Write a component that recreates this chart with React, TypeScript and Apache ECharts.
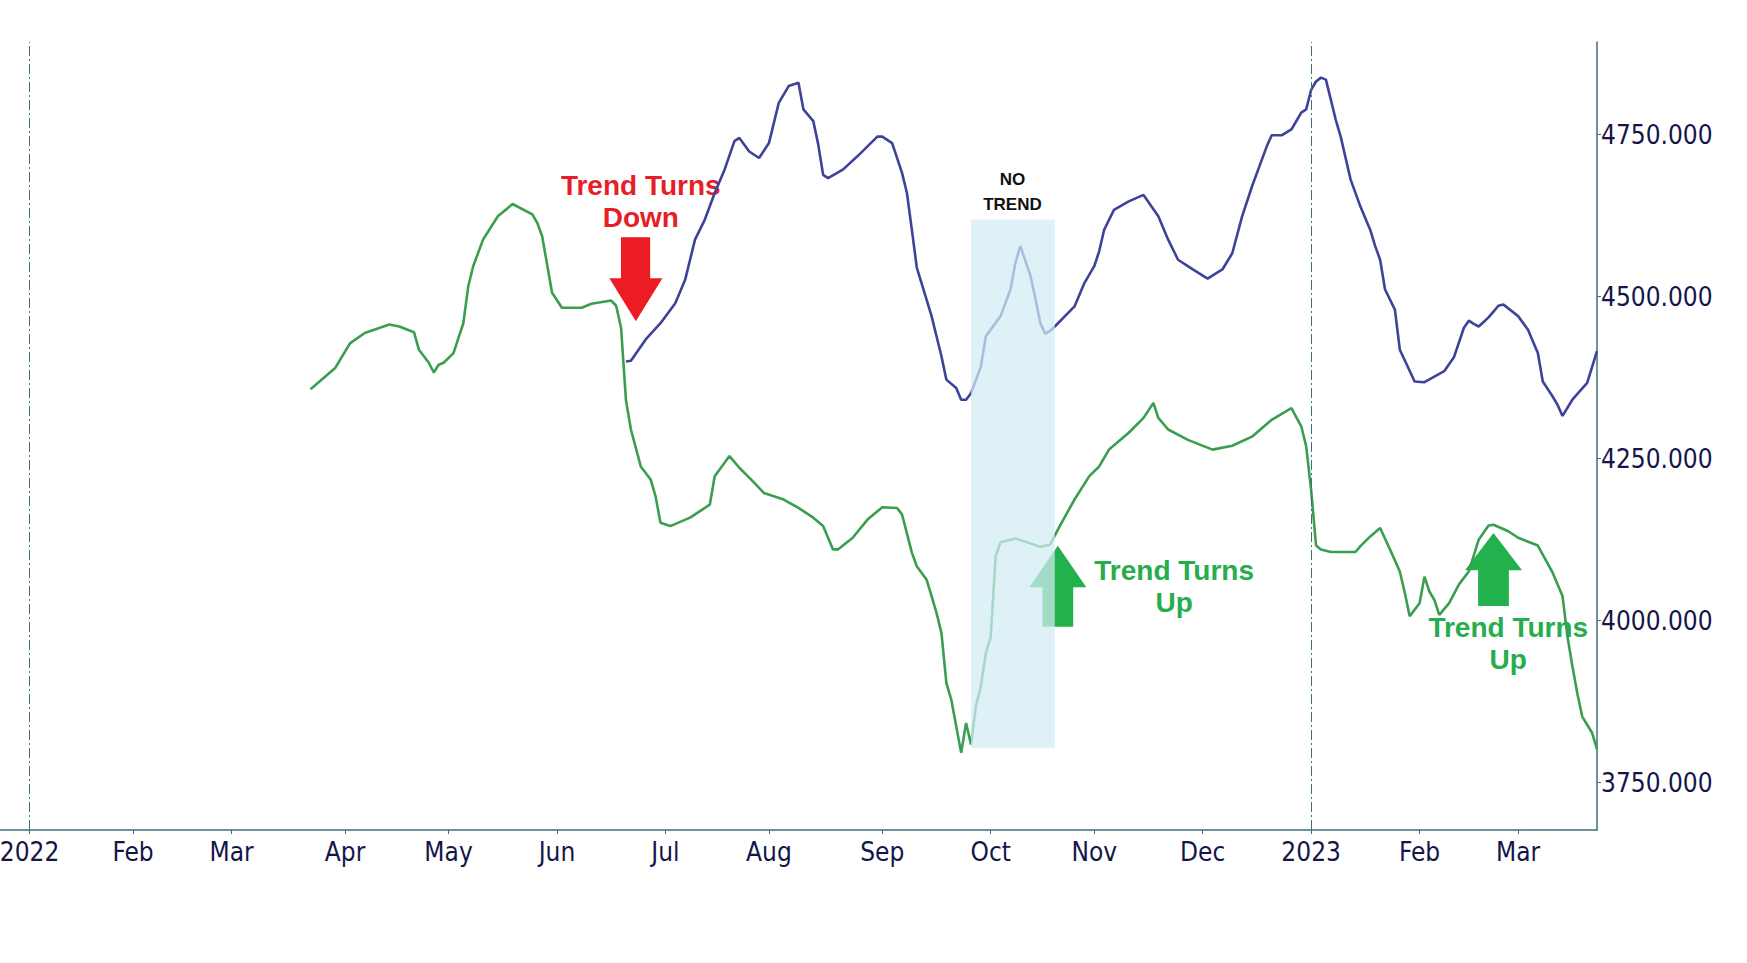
import React, { useEffect, useRef } from 'react';
import * as echarts from 'echarts';

// ---- axis definition ----
const FIRST_DAY = '2021-12-24';
const LAST_DAY = '2023-03-23';
const MONTH_LABELS = ['', 'Feb', 'Mar', 'Apr', 'May', 'Jun', 'Jul', 'Aug', 'Sep', 'Oct', 'Nov', 'Dec'];
const Y_TICKS = [3750, 4000, 4250, 4500, 4750];
const Y_MIN = 3677;
const Y_MAX = 4893;
const YEAR_LINES = ['2022-01-03', '2023-01-02'];

// ---- series values ----
const GREEN_LINE: [string, number][] = [
  ['2022-03-23', 4357], ['2022-03-30', 4390], ['2022-04-04', 4428], ['2022-04-07', 4444],
  ['2022-04-14', 4457], ['2022-04-18', 4454], ['2022-04-21', 4445], ['2022-04-22', 4418],
  ['2022-04-26', 4398], ['2022-04-27', 4383], ['2022-04-28', 4395], ['2022-04-29', 4398],
  ['2022-05-03', 4413], ['2022-05-05', 4459], ['2022-05-06', 4516], ['2022-05-09', 4547],
  ['2022-05-11', 4588], ['2022-05-16', 4624], ['2022-05-19', 4643], ['2022-05-25', 4627],
  ['2022-05-26', 4614], ['2022-05-27', 4593], ['2022-05-31', 4506], ['2022-06-02', 4483],
  ['2022-06-08', 4483], ['2022-06-10', 4489], ['2022-06-16', 4494], ['2022-06-17', 4486],
  ['2022-06-20', 4452], ['2022-06-21', 4340], ['2022-06-22', 4295], ['2022-06-24', 4238],
  ['2022-06-28', 4218], ['2022-06-29', 4192], ['2022-06-30', 4151], ['2022-07-04', 4146],
  ['2022-07-08', 4159], ['2022-07-14', 4179], ['2022-07-15', 4223], ['2022-07-20', 4254],
  ['2022-07-22', 4236], ['2022-07-27', 4213], ['2022-07-29', 4197], ['2022-08-04', 4187],
  ['2022-08-09', 4174], ['2022-08-12', 4159], ['2022-08-16', 4146], ['2022-08-18', 4110],
  ['2022-08-19', 4110], ['2022-08-24', 4128], ['2022-08-29', 4156], ['2022-09-01', 4175],
  ['2022-09-06', 4174], ['2022-09-07', 4164], ['2022-09-09', 4105], ['2022-09-12', 4084],
  ['2022-09-14', 4063], ['2022-09-15', 4038], ['2022-09-16', 4012], ['2022-09-19', 3981],
  ['2022-09-20', 3904], ['2022-09-21', 3878], ['2022-09-22', 3837], ['2022-09-23', 3796],
  ['2022-09-26', 3842], ['2022-09-27', 3809], ['2022-09-28', 3868], ['2022-09-29', 3899],
  ['2022-09-30', 3950], ['2022-10-03', 3975], ['2022-10-04', 4100], ['2022-10-05', 4121],
  ['2022-10-10', 4127], ['2022-10-12', 4122], ['2022-10-17', 4114], ['2022-10-19', 4117],
  ['2022-10-21', 4146], ['2022-10-26', 4187], ['2022-10-31', 4223], ['2022-11-02', 4238],
  ['2022-11-04', 4264], ['2022-11-10', 4290], ['2022-11-15', 4313], ['2022-11-17', 4336],
  ['2022-11-18', 4313], ['2022-11-22', 4295], ['2022-11-28', 4279], ['2022-12-05', 4264],
  ['2022-12-09', 4270], ['2022-12-15', 4284], ['2022-12-21', 4310], ['2022-12-27', 4328],
  ['2022-12-29', 4300], ['2022-12-30', 4269], ['2023-01-02', 4202], ['2023-01-03', 4116],
  ['2023-01-04', 4110], ['2023-01-06', 4106], ['2023-01-13', 4106], ['2023-01-16', 4115],
  ['2023-01-18', 4130], ['2023-01-20', 4143], ['2023-01-24', 4110], ['2023-01-26', 4076],
  ['2023-01-27', 4043], ['2023-01-30', 4007], ['2023-02-01', 4027], ['2023-02-02', 4068],
  ['2023-02-03', 4045], ['2023-02-06', 4032], ['2023-02-07', 4009], ['2023-02-09', 4027],
  ['2023-02-13', 4056], ['2023-02-15', 4076], ['2023-02-17', 4125], ['2023-02-21', 4147],
  ['2023-02-22', 4148], ['2023-02-27', 4138], ['2023-03-01', 4128], ['2023-03-07', 4116],
  ['2023-03-10', 4074], ['2023-03-14', 4038], ['2023-03-15', 3976], ['2023-03-16', 3930],
  ['2023-03-17', 3888], ['2023-03-20', 3852], ['2023-03-22', 3827], ['2023-03-23', 3802],
];

const BLUE_LINE: [string, number][] = [
  ['2022-06-21', 4400], ['2022-06-22', 4401], ['2022-06-27', 4434], ['2022-06-30', 4459],
  ['2022-07-05', 4490], ['2022-07-07', 4526], ['2022-07-11', 4588], ['2022-07-13', 4619],
  ['2022-07-15', 4660], ['2022-07-19', 4696], ['2022-07-21', 4740], ['2022-07-22', 4745],
  ['2022-07-26', 4724], ['2022-07-28', 4714], ['2022-08-01', 4737], ['2022-08-03', 4799],
  ['2022-08-05', 4825], ['2022-08-09', 4830], ['2022-08-10', 4789], ['2022-08-12', 4771],
  ['2022-08-15', 4735], ['2022-08-16', 4688], ['2022-08-17', 4683], ['2022-08-22', 4696],
  ['2022-08-25', 4717], ['2022-08-31', 4747], ['2022-09-01', 4747], ['2022-09-05', 4737],
  ['2022-09-07', 4691], ['2022-09-08', 4660], ['2022-09-09', 4603], ['2022-09-12', 4545],
  ['2022-09-14', 4495], ['2022-09-15', 4470], ['2022-09-16', 4439], ['2022-09-19', 4408],
  ['2022-09-20', 4372], ['2022-09-22', 4359], ['2022-09-23', 4341], ['2022-09-26', 4341],
  ['2022-09-27', 4351], ['2022-09-29', 4392], ['2022-09-30', 4439], ['2022-10-05', 4470],
  ['2022-10-07', 4511], ['2022-10-10', 4552], ['2022-10-11', 4578], ['2022-10-13', 4534],
  ['2022-10-14', 4500], ['2022-10-17', 4461], ['2022-10-18', 4443], ['2022-10-19', 4447],
  ['2022-10-20', 4454], ['2022-10-26', 4485], ['2022-10-28', 4521], ['2022-11-01', 4547],
  ['2022-11-02', 4570], ['2022-11-03', 4603], ['2022-11-07', 4634], ['2022-11-10', 4647],
  ['2022-11-15', 4657], ['2022-11-18', 4624], ['2022-11-22', 4588], ['2022-11-24', 4557],
  ['2022-11-29', 4542], ['2022-12-02', 4528], ['2022-12-07', 4542], ['2022-12-09', 4567],
  ['2022-12-13', 4624], ['2022-12-15', 4670], ['2022-12-20', 4732], ['2022-12-21', 4749],
  ['2022-12-23', 4749], ['2022-12-27', 4758], ['2022-12-29', 4784], ['2022-12-30', 4789],
  ['2023-01-02', 4819], ['2023-01-03', 4832], ['2023-01-04', 4838], ['2023-01-05', 4835],
  ['2023-01-09', 4773], ['2023-01-10', 4747], ['2023-01-12', 4681], ['2023-01-16', 4639],
  ['2023-01-18', 4603], ['2023-01-19', 4578], ['2023-01-20', 4557], ['2023-01-23', 4511],
  ['2023-01-25', 4480], ['2023-01-26', 4418], ['2023-01-31', 4369], ['2023-02-02', 4368],
  ['2023-02-08', 4385], ['2023-02-10', 4407], ['2023-02-14', 4452], ['2023-02-15', 4463],
  ['2023-02-16', 4458], ['2023-02-17', 4454], ['2023-02-20', 4461], ['2023-02-21', 4468],
  ['2023-02-22', 4477], ['2023-02-23', 4486], ['2023-02-24', 4488], ['2023-03-01', 4470],
  ['2023-03-03', 4449], ['2023-03-07', 4413], ['2023-03-08', 4369], ['2023-03-10', 4346],
  ['2023-03-13', 4333], ['2023-03-14', 4316], ['2023-03-16', 4341], ['2023-03-21', 4367],
  ['2023-03-23', 4416],
];

// ---- annotations (anchored in data coordinates) ----
const NO_TREND_ZONE = { from: '2022-09-27', to: '2022-10-20', top: 4619, bottom: 3803 };
const ARROW_DOWN = { date: '2022-06-23', value: 4527 };
const ARROW_UP_1 = { date: '2022-10-20', value: 4053 };
const ARROW_UP_2 = { date: '2023-02-22', value: 4079 };
const TEXT_DOWN = { date: '2022-06-24', value: 4647, text: 'Trend Turns\nDown' };
const TEXT_UP_1 = { date: '2022-11-23', value: 4053, text: 'Trend Turns\nUp' };
const TEXT_UP_2 = { date: '2023-02-27', value: 3965, text: 'Trend Turns\nUp' };
const TEXT_NO_TREND = { date: '2022-10-07', value: 4662, text: 'NO\nTREND' };

function buildWeekdays(first: string, last: string): string[] {
  const out: string[] = [];
  const d = new Date(first + 'T00:00:00Z');
  const end = new Date(last + 'T00:00:00Z').getTime();
  while (d.getTime() <= end) {
    const wd = d.getUTCDay();
    if (wd !== 0 && wd !== 6) out.push(d.toISOString().slice(0, 10));
    d.setUTCDate(d.getUTCDate() + 1);
  }
  return out;
}

const CATEGORIES = buildWeekdays(FIRST_DAY, LAST_DAY);

const monthOf = (s: string) => s.slice(0, 7);
const isMonthStart = (index: number) =>
  index > 0 && monthOf(CATEGORIES[index]) !== monthOf(CATEGORIES[index - 1]);

const AXIS_COLOR = '#3f6f78';
const LABEL_COLOR = '#14164a';
const LABEL_FONT = "'DejaVu Sans Condensed', 'Liberation Sans', 'DejaVu Sans', sans-serif";
const ANNOT_FONT = "'Liberation Sans', Arial, sans-serif";

const ARROW_DOWN_PATH = 'path://M22,0L77,0L77,49L100,49L50,100L0,49L22,49Z';
const ARROW_UP_PATH = 'path://M50,0L100,51L77,51L77,100L23,100L23,51L0,51Z';

function textPoint(p: { date: string; value: number; text: string }, color: string, size: number, lh: number, dx = 0) {
  return {
    coord: [p.date, p.value],
    symbol: 'circle',
    symbolSize: 1,
    itemStyle: { color: 'rgba(0,0,0,0)' },
    label: {
      show: true,
      position: 'inside',
      formatter: p.text,
      color,
      fontSize: size,
      fontWeight: 'bold',
      fontFamily: ANNOT_FONT,
      lineHeight: lh,
      align: 'center',
      verticalAlign: 'middle',
      offset: [dx, 0],
    },
  };
}

function buildOption() {
  return {
    animation: false,
    backgroundColor: '#ffffff',
    grid: { left: 0, right: 150, top: 42, bottom: 133, containLabel: false, outerBoundsMode: 'none' },
    xAxis: {
      type: 'category',
      data: CATEGORIES,
      boundaryGap: false,
      axisLine: { show: true, lineStyle: { color: AXIS_COLOR, width: 1.5 } },
      axisTick: {
        show: true,
        length: 4,
        interval: (i: number) => isMonthStart(i),
        lineStyle: { color: AXIS_COLOR, width: 1 },
      },
      axisLabel: {
        show: true,
        interval: (i: number) => isMonthStart(i),
        hideOverlap: false,
        formatter: (v: string) => {
          const m = parseInt(v.slice(5, 7), 10) - 1;
          return m === 0 ? v.slice(0, 4) : MONTH_LABELS[m];
        },
        color: LABEL_COLOR,
        fontSize: 26,
        fontFamily: LABEL_FONT,
        margin: 9,
      },
      splitLine: { show: false },
    },
    yAxis: {
      type: 'value',
      position: 'right',
      min: Y_MIN,
      max: Y_MAX,
      axisLine: { show: true, lineStyle: { color: AXIS_COLOR, width: 1.5 } },
      axisTick: { show: true, length: 4, customValues: Y_TICKS, lineStyle: { color: AXIS_COLOR } },
      axisLabel: {
        show: true,
        customValues: Y_TICKS,
        formatter: (v: number) => v.toFixed(3),
        color: LABEL_COLOR,
        fontSize: 26,
        fontFamily: LABEL_FONT,
        margin: 4,
      },
      splitLine: { show: false },
    },
    series: [
      {
        name: 'annotations',
        type: 'line',
        data: [],
        z: 1,
        silent: true,
        markLine: {
          silent: true,
          z: 5,
          symbol: ['none', 'none'],
          label: { show: false },
          lineStyle: { color: AXIS_COLOR, width: 1, type: [10, 3, 2, 3] },
          data: YEAR_LINES.map((d) => ({ xAxis: d })),
        },
        markPoint: {
          silent: true,
          z: 1,
          data: [
            {
              coord: [ARROW_DOWN.date, ARROW_DOWN.value],
              symbol: ARROW_DOWN_PATH,
              symbolSize: [53, 84],
              itemStyle: { color: '#ec1c24' },
              label: { show: false },
            },
            {
              coord: [ARROW_UP_1.date, ARROW_UP_1.value],
              symbol: ARROW_UP_PATH,
              symbolSize: [57, 81],
              symbolOffset: [3, 0],
              itemStyle: { color: '#22b14c' },
              label: { show: false },
            },
            {
              coord: [ARROW_UP_2.date, ARROW_UP_2.value],
              symbol: ARROW_UP_PATH,
              symbolSize: [57, 73],
              itemStyle: { color: '#22b14c' },
              label: { show: false },
            },
            textPoint(TEXT_DOWN, '#e61e27', 28, 32),
            textPoint(TEXT_UP_1, '#26ad4d', 28, 32, 1),
            textPoint(TEXT_UP_2, '#26ad4d', 28, 32),
            textPoint(TEXT_NO_TREND, '#111111', 17, 25, 2),
          ],
        },
      },
      {
        name: 'Green',
        type: 'line',
        data: GREEN_LINE,
        z: 2,
        symbol: 'none',
        smooth: false,
        lineStyle: { color: '#3a9e50', width: 2.6 },
        itemStyle: { color: '#3a9e50' },
      },
      {
        name: 'Blue',
        type: 'line',
        data: BLUE_LINE,
        z: 2,
        symbol: 'none',
        smooth: false,
        lineStyle: { color: '#3d4399', width: 2.6 },
        itemStyle: { color: '#3d4399' },
      },
      {
        name: 'no trend zone',
        type: 'line',
        data: [],
        z: 5,
        silent: true,
        markArea: {
          silent: true,
          z: 10,
          itemStyle: { color: 'rgba(210,236,244,0.73)' },
          data: [
            [
              { xAxis: NO_TREND_ZONE.from, yAxis: NO_TREND_ZONE.top },
              { xAxis: NO_TREND_ZONE.to, yAxis: NO_TREND_ZONE.bottom },
            ],
          ],
        },
      },
    ],
  };
}

export default function App() {
  const ref = useRef<HTMLDivElement>(null);
  useEffect(() => {
    if (!ref.current) return;
    const chart = echarts.init(ref.current, null, { renderer: 'svg' });
    chart.setOption(buildOption() as any);
    return () => chart.dispose();
  }, []);
  return (
    <div
      ref={ref}
      style={{ position: 'absolute', left: 0, top: 0, width: 1747, height: 963, background: '#ffffff' }}
    />
  );
}
